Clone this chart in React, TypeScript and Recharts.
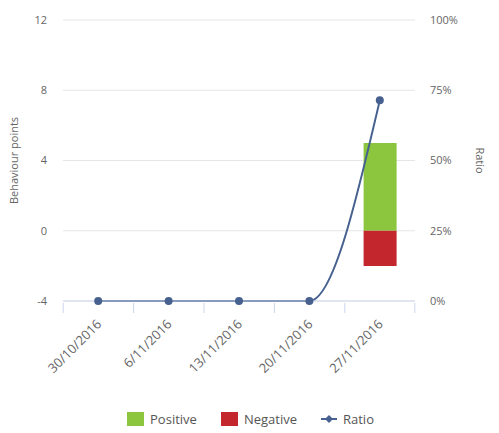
import React from "react";
import {
  Bar,
  CartesianGrid,
  ComposedChart,
  Legend,
  Line,
  XAxis,
  YAxis,
} from "recharts";

const weeks = ["30/10/2016", "6/11/2016", "13/11/2016", "20/11/2016", "27/11/2016"];
const positive = [null, null, null, null, 5];
const negative = [null, null, null, null, -2];
const ratio = [0, 0, 0, 0, 0.714];
const pointTicks = [-4, 0, 4, 8, 12];
const ratioTicks = [0, 0.25, 0.5, 0.75, 1];

const data = weeks.map((week, i) => ({
  week,
  positive: positive[i],
  negative: negative[i],
  ratio: ratio[i],
}));

const FONT = '"Open Sans", "Noto Sans", sans-serif';
const GREEN = "#8cc63e";
const RED = "#c4262e";
const BLUE = "#46608f";

function WeekTick(props: any) {
  const { x, y, payload, index } = props;
  const half = 35;
  return (
    <g>
      <line x1={x - half} y1={y - 6} x2={x - half} y2={y + 4} stroke="#ccd6eb" />
      {index === weeks.length - 1 && (
        <line x1={x + half} y1={y - 6} x2={x + half} y2={y + 4} stroke="#ccd6eb" />
      )}
      <text
        x={x + 4}
        y={y + 16}
        textAnchor="end"
        fill="#666"
        fontSize={13}
        fontFamily={FONT}
        transform={`rotate(-45 ${x + 4} ${y + 16})`}
      >
        {payload.value}
      </text>
    </g>
  );
}

function LegendBox() {
  const item = (label: string, marker: React.ReactNode) => (
    <span style={{ display: "inline-flex", alignItems: "center", margin: "0 12px" }}>
      {marker}
      <span style={{ marginLeft: 6, color: "#555", fontSize: 13, fontFamily: FONT }}>{label}</span>
    </span>
  );
  return (
    <div style={{ display: "flex", justifyContent: "center", alignItems: "center", paddingTop: 19, paddingLeft: 2 }}>
      {item("Positive", <span style={{ width: 17, height: 14, background: GREEN, display: "inline-block" }} />)}
      {item("Negative", <span style={{ width: 17, height: 14, background: RED, display: "inline-block" }} />)}
      {item(
        "Ratio",
        <svg width={16} height={10}>
          <line x1={0} y1={5} x2={16} y2={5} stroke={BLUE} strokeWidth={2} />
          <path d="M8 1 L12 5 L8 9 L4 5 Z" fill={BLUE} />
        </svg>
      )}
    </div>
  );
}

export default function App() {
  return (
    <div style={{ position: "absolute", left: 0, top: 0, background: "#fff" }}>
      <ComposedChart
        width={499}
        height={433}
        data={data}
        stackOffset="sign"
        margin={{ top: 20, right: 0, bottom: 0, left: 0 }}
      >
        <CartesianGrid yAxisId="points" vertical={false} stroke="#e6e6e6" />
        <XAxis
          dataKey="week"
          height={90}
          axisLine={{ stroke: "#ccd6eb" }}
          tickLine={false}
          interval={0}
          tick={<WeekTick />}
        />
        <YAxis
          yAxisId="points"
          width={63}
          domain={[-4, 12]}
          ticks={pointTicks}
          axisLine={false}
          tickLine={false}
          tickMargin={10}
          tick={{ fill: "#666", fontSize: 11, fontFamily: FONT }}
          label={{
            value: "Behaviour points",
            angle: -90,
            position: "insideLeft",
            dx: 9,
            style: { textAnchor: "middle", fill: "#666", fontSize: 11, fontFamily: FONT },
          }}
        />
        <YAxis
          yAxisId="ratio"
          orientation="right"
          width={84}
          domain={[0, 1]}
          ticks={ratioTicks}
          axisLine={false}
          tickLine={false}
          tickMargin={9}
          tick={{ fill: "#666", fontSize: 11, fontFamily: FONT, textAnchor: "start" }}
          tickFormatter={(v: number) => `${Math.round(v * 100)}%`}
          label={{
            value: "Ratio",
            angle: 90,
            position: "insideRight",
            dx: -14,
            style: { textAnchor: "middle", fill: "#666", fontSize: 11, fontFamily: FONT },
          }}
        />
        <Legend verticalAlign="bottom" height={42} content={<LegendBox />} />
        <Bar yAxisId="points" dataKey="positive" name="Positive" stackId="s" fill={GREEN} barSize={33} isAnimationActive={false} />
        <Bar yAxisId="points" dataKey="negative" name="Negative" stackId="s" fill={RED} barSize={33} isAnimationActive={false} />
        <Line
          yAxisId="ratio"
          type="monotone"
          dataKey="ratio"
          name="Ratio"
          stroke={BLUE}
          strokeWidth={2}
          dot={{ r: 4, fill: BLUE, stroke: BLUE, strokeWidth: 0 }}
          isAnimationActive={false}
        />
      </ComposedChart>
    </div>
  );
}
